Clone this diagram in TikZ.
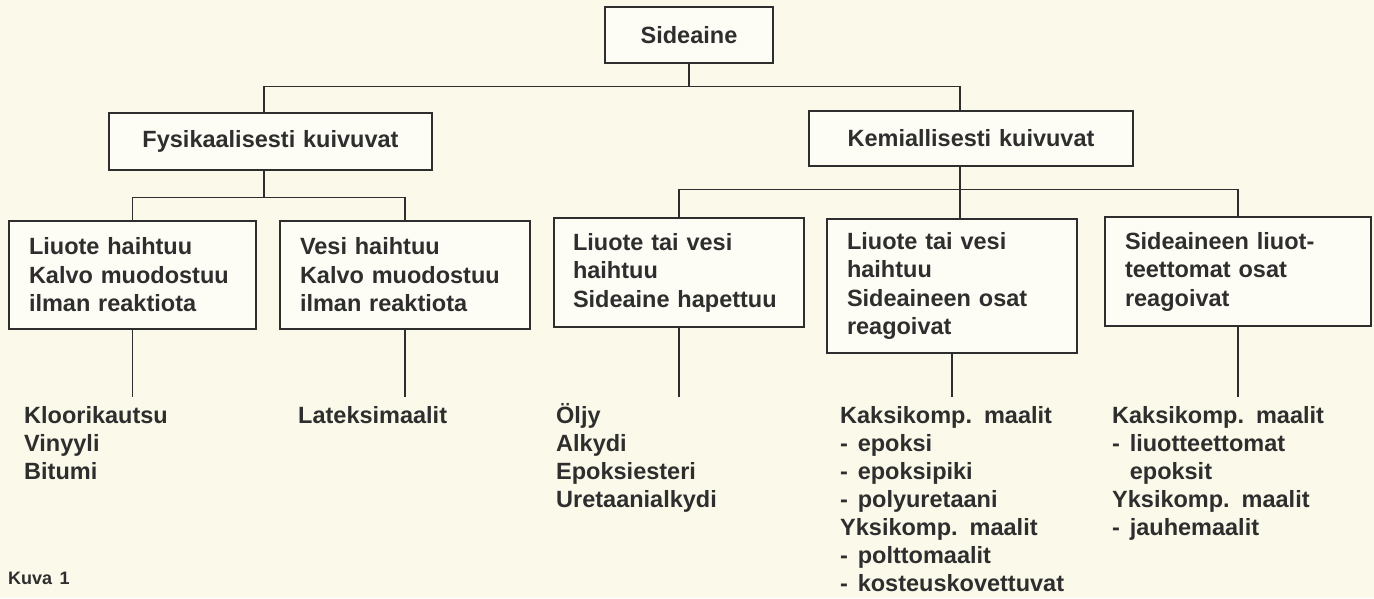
\documentclass[tikz,border=0pt]{standalone}
\usepackage{fontspec}
\setmainfont{Liberation Sans}[WordSpace=1.5]
\usetikzlibrary{calc}
\definecolor{paper}{HTML}{FBF9E9}
\definecolor{ink}{HTML}{2E2E2E}
\begin{document}
\begin{tikzpicture}[x=1pt,y=-1pt,
  txt/.style={font=\fontsize{23.5}{28.5}\selectfont\bfseries, text=ink},
  box/.style={txt, draw=ink, line width=1.3pt, fill=white!55!paper, inner ysep=0pt, inner xsep=20pt, align=left},
  conn/.style={draw=ink, line width=1.3pt},
  lst/.style={font=\fontsize{23.5}{28}\selectfont\bfseries, text=ink, anchor=north west, inner sep=0pt, align=left},
  kuvacap/.style={font=\fontsize{18}{22}\selectfont\bfseries, text=ink, anchor=base west, inner sep=0pt}]
\path[fill=paper] (0,0) rectangle (1374,598);
\useasboundingbox (0,0) rectangle (1374,598);

% level 0 and 1
\node[box, text width=128pt, align=center, minimum height=56pt] (top) at (689,35) {Sideaine};
\node[box, text width=283pt, align=center, minimum height=57pt] (fys) at (270.5,141.5) {Fysikaalisesti kuivuvat};
\node[box, text width=284pt, align=center, minimum height=55pt] (kem) at (971,138.5) {Kemiallisesti kuivuvat};

% level 2 boxes
\node[box, text width=207pt, minimum height=108pt] (b1) at (132.5,275) {Liuote haihtuu\\Kalvo muodostuu\\ilman reaktiota};
\node[box, text width=210pt, minimum height=108pt] (b2) at (405,275) {Vesi haihtuu\\Kalvo muodostuu\\ilman reaktiota};
\node[box, text width=212pt, inner xsep=19pt, minimum height=109pt] (b3) at (679,272.5) {Liuote tai vesi\\haihtuu\\Sideaine hapettuu};
\node[box, text width=210pt, minimum height=134pt] (b4) at (952,286) {Liuote tai vesi\\haihtuu\\Sideaineen osat\\reagoivat};
\node[box, text width=226pt, minimum height=109pt] (b5) at (1238,271.5) {Sideaineen liuot-\\teettomat osat\\reagoivat};

% lists
\node[lst] (l1) at (24,401) {\rule{0pt}{22pt}Kloorikautsu\\Vinyyli\\Bitumi};
\node[lst] (l2) at (298,401) {\rule{0pt}{22pt}Lateksimaalit};
\node[lst] (l3) at (556,401) {\rule{0pt}{22pt}Öljy\\Alkydi\\Epoksiesteri\\Uretaanialkydi};
\node[lst] (l4) at (840,401) {\rule{0pt}{22pt}Kaksikomp. maalit\\- epoksi\\- epoksipiki\\- polyuretaani\\Yksikomp. maalit\\- polttomaalit\\- kosteuskovettuvat};
\node[lst] (l5) at (1112,401) {\rule{0pt}{22pt}Kaksikomp. maalit\\- liuotteettomat\\\phantom{- }epoksit\\Yksikomp. maalit\\- jauhemaalit};

\node[kuvacap] (kuva) at (8,584) {Kuva 1};

% connectors
\draw[conn] (top.south) -- ++(0,23) coordinate (j0);
\draw[conn] ($(fys.north)+(-6.5,0)$) |- (j0) -| ($(kem.north)+(-11,0)$);
\draw[conn] ($(fys.south)+(-6.5,0)$) -- ++(0,27) coordinate (j1);
\draw[conn] (b1.north) |- (j1) -| (b2.north);
\draw[conn] ($(kem.south)+(-11,0)$) -- ++(0,23) coordinate (j2);
\draw[conn] (b3.north) |- (j2) -| (b5.north);
\draw[conn] (j2) -- (j2 |- b4.north);

\foreach \b/\l in {b1/l1,b2/l2,b3/l3,b4/l4,b5/l5}
  \draw[conn, shorten >=4pt] (\b.south) -- (\b.south |- \l.north);
\end{tikzpicture}
\end{document}
